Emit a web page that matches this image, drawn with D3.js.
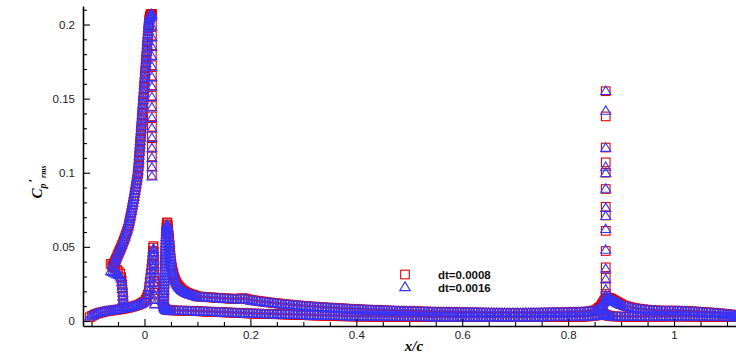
<!DOCTYPE html>
<html>
<head>
<meta charset="utf-8">
<script src="https://cdn.jsdelivr.net/npm/d3@7"></script>
<style>
  body { margin: 0; background: #fff; }
  svg { display: block; }
</style>
</head>
<body>
<svg id="chart" width="736" height="358"></svg>
<script>
// each row: [x/c, Cp'rms dt=0.0008, Cp'rms dt=0.0016]
const slatLower = [
  [-0.103,0.0025,0.0030],[-0.099,0.0035,0.0038],[-0.095,0.0042,0.0046],[-0.091,0.0048,0.0051],
  [-0.087,0.0053,0.0055],[-0.083,0.0057,0.0059],[-0.079,0.0060,0.0062],[-0.075,0.0063,0.0065],
  [-0.071,0.0066,0.0067],[-0.067,0.0068,0.0069],[-0.063,0.0070,0.0071],[-0.059,0.0072,0.0073],
  [-0.055,0.0074,0.0075],[-0.051,0.0076,0.0077],[-0.047,0.0078,0.0079],[-0.043,0.0080,0.0081],
  [-0.039,0.0083,0.0084],[-0.035,0.0086,0.0087],[-0.031,0.0089,0.0090],[-0.027,0.0092,0.0093],
  [-0.023,0.0096,0.0097],[-0.019,0.0100,0.0101],[-0.015,0.0105,0.0106],[-0.011,0.0110,0.0111],
  [-0.007,0.0116,0.0117],[-0.004,0.0122,0.0123],[-0.001,0.0130,0.0130],[0.002,0.0142,0.0140],
  [0.004,0.0158,0.0155],[0.006,0.0178,0.0174],[0.008,0.0205,0.0200],[0.009,0.0232,0.0226],
  [0.010,0.0262,0.0255],[0.011,0.0292,0.0285],[0.012,0.0322,0.0315],[0.013,0.0352,0.0345],
  [0.014,0.0382,0.0375],[0.015,0.0412,0.0405],[0.0155,0.0442,0.0435],[0.016,0.0470,0.0462],
  [0.0165,0.0495,0.0480],[0.017,0.0505,0.0487]
];
const slatTELower = [
  [0.0175,0.0470,0.0455],[0.018,0.0430,0.0415],[0.018,0.0390,0.0375],[0.018,0.0350,0.0335],
  [0.018,0.0310,0.0295],[0.018,0.0270,0.0255],[0.018,0.0230,0.0215],[0.018,0.0190,0.0180],
  [0.018,0.0150,0.0142],[0.019,0.0120,0.0112]
];
const slatCove = [
  [-0.064,0.0385,0.0335],[-0.061,0.0375,0.0330],[-0.058,0.0365,0.0325],[-0.055,0.0355,0.0320],
  [-0.052,0.0345,0.0315],[-0.049,0.0335,0.0310],[-0.046,0.0320,0.0300],[-0.044,0.0295,0.0285],
  [-0.043,0.0270,0.0262],[-0.042,0.0245,0.0238],[-0.042,0.0220,0.0214],[-0.041,0.0195,0.0190],
  [-0.041,0.0170,0.0166],[-0.040,0.0145,0.0142],[-0.040,0.0120,0.0118],[-0.039,0.0098,0.0096]
];
const slatUpper = [
  [-0.0600,0.0365,0.0372],[-0.0585,0.0377,0.0389],[-0.0570,0.0390,0.0402],[-0.0555,0.0403,0.0415],
  [-0.0540,0.0415,0.0427],[-0.0525,0.0427,0.0439],[-0.0510,0.0440,0.0452],[-0.0495,0.0453,0.0465],
  [-0.0480,0.0465,0.0477],[-0.0465,0.0477,0.0489],[-0.0450,0.0490,0.0502],[-0.0435,0.0503,0.0515],
  [-0.0420,0.0515,0.0527],[-0.0405,0.0529,0.0541],[-0.0390,0.0543,0.0555],[-0.0375,0.0558,0.0570],
  [-0.0360,0.0573,0.0585],[-0.0345,0.0589,0.0601],[-0.0330,0.0605,0.0617],[-0.0315,0.0622,0.0634],
  [-0.0300,0.0640,0.0652],[-0.0290,0.0657,0.0669],[-0.0280,0.0675,0.0687],[-0.0270,0.0692,0.0704],
  [-0.0260,0.0710,0.0722],[-0.0250,0.0728,0.0740],[-0.0240,0.0747,0.0759],[-0.0230,0.0766,0.0778],
  [-0.0220,0.0785,0.0797],[-0.0210,0.0805,0.0817],[-0.0200,0.0825,0.0837],[-0.0190,0.0846,0.0858],
  [-0.0180,0.0867,0.0879],[-0.0170,0.0888,0.0900],[-0.0160,0.0910,0.0922],[-0.0150,0.0932,0.0944],
  [-0.0140,0.0955,0.0967],[-0.0130,0.0980,0.0991],[-0.0120,0.1005,0.1016],[-0.0115,0.1030,0.1040],
  [-0.0110,0.1055,0.1065],[-0.0105,0.1080,0.1090],[-0.0100,0.1105,0.1115],[-0.0095,0.1130,0.1140],
  [-0.0090,0.1155,0.1165],[-0.0085,0.1180,0.1190],[-0.0080,0.1205,0.1215],[-0.0075,0.1230,0.1240],
  [-0.0070,0.1255,0.1265],[-0.0065,0.1280,0.1290],[-0.0060,0.1305,0.1315],[-0.0055,0.1330,0.1340],
  [-0.0050,0.1355,0.1365],[-0.0045,0.1380,0.1390],[-0.0040,0.1405,0.1415],[-0.0035,0.1430,0.1440],
  [-0.0030,0.1455,0.1465],[-0.0025,0.1480,0.1490],[-0.0020,0.1505,0.1515],[-0.0015,0.1530,0.1540],
  [-0.0010,0.1555,0.1565],[-0.0005,0.1580,0.1590],[0.0000,0.1605,0.1615],[0.0005,0.1630,0.1640],
  [0.0010,0.1655,0.1665],[0.0015,0.1680,0.1690],[0.0020,0.1705,0.1715],[0.0025,0.1730,0.1740],
  [0.0030,0.1755,0.1765],[0.0035,0.1780,0.1790],[0.0040,0.1805,0.1815],[0.0045,0.1830,0.1840],
  [0.0050,0.1855,0.1865],[0.0055,0.1880,0.1888],[0.0060,0.1905,0.1912],[0.0065,0.1930,0.1935],
  [0.0070,0.1955,0.1958],[0.0075,0.1975,0.1978],[0.0080,0.1995,0.1997],[0.0085,0.2013,0.2014],
  [0.0090,0.2030,0.2030],[0.0095,0.2043,0.2042],[0.0100,0.2055,0.2053],[0.0110,0.2064,0.2062],
  [0.0120,0.2070,0.2067],[0.0130,0.2072,0.2069],[0.0140,0.2072,0.2069]
];
const slatTE = [
  [0.014,0.2065,0.2055],[0.014,0.1995,0.1985],[0.014,0.1925,0.1915],[0.014,0.1860,0.1850],
  [0.014,0.1795,0.1785],[0.014,0.1725,0.1715],[0.014,0.1655,0.1645],[0.014,0.1590,0.1580],
  [0.014,0.1520,0.1510],[0.014,0.1450,0.1440],[0.014,0.1380,0.1370],[0.014,0.1310,0.1300],
  [0.014,0.1245,0.1235],[0.014,0.1175,0.1165],[0.014,0.1110,0.1100],[0.014,0.1045,0.1035],
  [0.014,0.0985,0.0975]
];
const mainNose = [
  [0.0355,0.0110,0.0108],[0.036,0.0130,0.0127],[0.036,0.0150,0.0147],[0.0365,0.0170,0.0167],
  [0.0365,0.0190,0.0187],[0.037,0.0210,0.0206],[0.037,0.0230,0.0226],[0.0375,0.0250,0.0246],
  [0.0375,0.0270,0.0266],[0.038,0.0290,0.0286],[0.038,0.0310,0.0306],[0.0385,0.0330,0.0326],
  [0.0385,0.0350,0.0346],[0.039,0.0370,0.0366],[0.039,0.0390,0.0386],[0.039,0.0410,0.0406],
  [0.0395,0.0430,0.0426],[0.0395,0.0450,0.0446],[0.0395,0.0470,0.0466],[0.040,0.0490,0.0486],
  [0.040,0.0510,0.0506],[0.040,0.0530,0.0526],[0.0405,0.0550,0.0546],[0.0405,0.0570,0.0566],
  [0.041,0.0590,0.0585],[0.041,0.0610,0.0604],[0.0415,0.0630,0.0622],[0.042,0.0650,0.0638],
  [0.0425,0.0665,0.0650]
];
const mainUpper = [
  [0.0435,0.0660,0.0645],[0.044,0.0640,0.0628],[0.0445,0.0620,0.0610],[0.045,0.0598,0.0588],
  [0.046,0.0575,0.0565],[0.0465,0.0552,0.0542],[0.047,0.0530,0.0520],[0.0475,0.0508,0.0498],
  [0.048,0.0485,0.0476],[0.0485,0.0462,0.0454],[0.049,0.0440,0.0432],[0.0495,0.0420,0.0412],
  [0.050,0.0400,0.0393],[0.051,0.0380,0.0373],[0.052,0.0360,0.0354],[0.053,0.0342,0.0336],
  [0.054,0.0325,0.0320],[0.055,0.0310,0.0305],[0.056,0.0295,0.0290],[0.0575,0.0281,0.0277],
  [0.059,0.0268,0.0264],[0.0605,0.0257,0.0253],[0.062,0.0246,0.0242],[0.064,0.0237,0.0233],
  [0.066,0.0228,0.0224],[0.068,0.0220,0.0217],[0.070,0.0213,0.0210],[0.0725,0.0206,0.0203],
  [0.075,0.0200,0.0197],[0.0775,0.0195,0.0192],[0.080,0.0190,0.0187],[0.083,0.0186,0.0183],
  [0.086,0.0182,0.0179],[0.0895,0.0178,0.0175],[0.093,0.0175,0.0172],[0.0965,0.0170,0.0167],
  [0.100,0.0165,0.0162],[0.105,0.0164,0.0161],[0.110,0.0163,0.0160],[0.115,0.0161,0.0158],
  [0.120,0.0160,0.0157],[0.125,0.0159,0.0156],[0.130,0.0158,0.0155],[0.135,0.0156,0.0153],
  [0.140,0.0155,0.0152],[0.145,0.0154,0.0151],[0.150,0.0153,0.0150],[0.155,0.0152,0.0149],
  [0.160,0.0151,0.0148],[0.165,0.0150,0.0147],[0.170,0.0149,0.0146],[0.175,0.0150,0.0146],
  [0.180,0.0151,0.0147],[0.185,0.0153,0.0149],[0.190,0.0152,0.0148],[0.195,0.0147,0.0144],
  [0.200,0.0142,0.0139],[0.205,0.0140,0.0137],[0.210,0.0137,0.0134],[0.215,0.0135,0.0132],
  [0.220,0.0132,0.0130],[0.225,0.0130,0.0127],[0.230,0.0127,0.0125],[0.235,0.0125,0.0123],
  [0.240,0.0123,0.0121],[0.245,0.0121,0.0119],[0.250,0.0119,0.0117],[0.255,0.0117,0.0115],
  [0.260,0.0115,0.0113],[0.265,0.0113,0.0111],[0.270,0.0111,0.0110],[0.275,0.0110,0.0108],
  [0.280,0.0108,0.0106],[0.285,0.0106,0.0105],[0.290,0.0104,0.0103],[0.295,0.0103,0.0102],
  [0.300,0.0101,0.0100],[0.305,0.0100,0.0098],[0.310,0.0098,0.0097],[0.315,0.0097,0.0096],
  [0.320,0.0096,0.0095],[0.325,0.0094,0.0093],[0.330,0.0093,0.0092],[0.335,0.0092,0.0091],
  [0.340,0.0091,0.0090],[0.345,0.0090,0.0089],[0.350,0.0089,0.0088],[0.355,0.0088,0.0087],
  [0.360,0.0087,0.0086],[0.365,0.0086,0.0085],[0.370,0.0085,0.0084],[0.375,0.0084,0.0083],
  [0.380,0.0083,0.0082],[0.385,0.0082,0.0081],[0.390,0.0081,0.0080],[0.395,0.0080,0.0079],
  [0.400,0.0079,0.0078],[0.405,0.0078,0.0078],[0.410,0.0077,0.0077],[0.415,0.0076,0.0076],
  [0.420,0.0076,0.0075],[0.425,0.0075,0.0074],[0.430,0.0074,0.0074],[0.435,0.0073,0.0073],
  [0.440,0.0073,0.0072],[0.445,0.0072,0.0072],[0.450,0.0071,0.0071],[0.455,0.0070,0.0070],
  [0.460,0.0070,0.0070],[0.465,0.0069,0.0069],[0.470,0.0069,0.0069],[0.475,0.0068,0.0068],
  [0.480,0.0068,0.0068],[0.485,0.0067,0.0067],[0.490,0.0067,0.0067],[0.495,0.0066,0.0066],
  [0.500,0.0066,0.0066],[0.505,0.0065,0.0065],[0.510,0.0065,0.0065],[0.515,0.0064,0.0064],
  [0.520,0.0064,0.0064],[0.525,0.0063,0.0063],[0.530,0.0063,0.0063],[0.535,0.0062,0.0062],
  [0.540,0.0062,0.0062],[0.545,0.0061,0.0061],[0.550,0.0061,0.0061],[0.555,0.0060,0.0061],
  [0.560,0.0060,0.0061],[0.565,0.0060,0.0060],[0.570,0.0060,0.0060],[0.575,0.0059,0.0060],
  [0.580,0.0059,0.0059],[0.585,0.0058,0.0059],[0.590,0.0058,0.0059],[0.595,0.0058,0.0058],
  [0.600,0.0058,0.0058],[0.605,0.0057,0.0058],[0.610,0.0057,0.0058],[0.615,0.0057,0.0057],
  [0.620,0.0057,0.0057],[0.625,0.0056,0.0057],[0.630,0.0056,0.0057],[0.635,0.0056,0.0056],
  [0.640,0.0056,0.0056],[0.645,0.0055,0.0056],[0.650,0.0055,0.0056],[0.655,0.0055,0.0055],
  [0.660,0.0055,0.0055],[0.665,0.0055,0.0055],[0.670,0.0055,0.0055],[0.675,0.0054,0.0055],
  [0.680,0.0054,0.0055],[0.685,0.0054,0.0054],[0.690,0.0054,0.0054],[0.695,0.0054,0.0054],
  [0.700,0.0054,0.0054],[0.705,0.0054,0.0054],[0.710,0.0054,0.0054],[0.715,0.0054,0.0055],
  [0.720,0.0054,0.0055],[0.725,0.0055,0.0055],[0.730,0.0055,0.0055],[0.735,0.0055,0.0055],
  [0.740,0.0055,0.0055],[0.745,0.0055,0.0056],[0.750,0.0055,0.0056],[0.755,0.0056,0.0056],
  [0.760,0.0056,0.0056],[0.765,0.0056,0.0057],[0.770,0.0056,0.0057],[0.775,0.0057,0.0057],
  [0.780,0.0057,0.0057],[0.785,0.0057,0.0058],[0.790,0.0057,0.0058],[0.795,0.0058,0.0058],
  [0.800,0.0058,0.0058],[0.805,0.0058,0.0059],[0.810,0.0059,0.0059],[0.815,0.0059,0.0060],
  [0.820,0.0060,0.0060],[0.825,0.0061,0.0061],[0.830,0.0062,0.0062],[0.835,0.0063,0.0063],
  [0.840,0.0065,0.0064],[0.845,0.0068,0.0067],[0.850,0.0072,0.0070],[0.855,0.0080,0.0078],
  [0.860,0.0092,0.0089],[0.865,0.0108,0.0104]
];
const mainLower = [
  [0.0365,0.0100,0.0098],[0.037,0.0092,0.0090],[0.038,0.0086,0.0084],[0.039,0.0081,0.0079],
  [0.040,0.0078,0.0076],[0.0415,0.0076,0.0074],[0.043,0.0075,0.0073],[0.0445,0.0074,0.0072],
  [0.046,0.0073,0.0071],[0.048,0.0072,0.0070],
  [0.050,0.0072,0.0070],[0.055,0.0071,0.0070],[0.060,0.0070,0.0069],[0.065,0.0070,0.0068],
  [0.070,0.0069,0.0068],[0.075,0.0069,0.0067],[0.080,0.0068,0.0067],[0.085,0.0068,0.0066],
  [0.090,0.0067,0.0066],[0.095,0.0067,0.0065],[0.100,0.0066,0.0065],[0.105,0.0065,0.0064],
  [0.110,0.0064,0.0063],[0.115,0.0063,0.0062],[0.120,0.0062,0.0061],[0.125,0.0062,0.0061],
  [0.130,0.0061,0.0060],[0.135,0.0060,0.0059],[0.140,0.0059,0.0058],[0.145,0.0059,0.0058],
  [0.150,0.0058,0.0057],[0.155,0.0057,0.0056],[0.160,0.0056,0.0055],[0.165,0.0056,0.0055],
  [0.170,0.0055,0.0054],[0.175,0.0054,0.0053],[0.180,0.0053,0.0052],[0.185,0.0053,0.0052],
  [0.190,0.0052,0.0051],[0.195,0.0051,0.0050],[0.200,0.0050,0.0049],[0.205,0.0050,0.0049],
  [0.210,0.0049,0.0048],[0.215,0.0049,0.0048],[0.220,0.0048,0.0047],[0.225,0.0048,0.0047],
  [0.230,0.0047,0.0046],[0.235,0.0047,0.0046],[0.240,0.0046,0.0045],[0.245,0.0046,0.0045],
  [0.250,0.0045,0.0044],[0.255,0.0045,0.0044],[0.260,0.0044,0.0043],[0.265,0.0044,0.0043],
  [0.270,0.0043,0.0042],[0.275,0.0043,0.0042],[0.280,0.0042,0.0041],[0.285,0.0041,0.0041],
  [0.290,0.0040,0.0040],[0.295,0.0040,0.0040],[0.300,0.0039,0.0039],[0.305,0.0039,0.0039],
  [0.310,0.0038,0.0038],[0.315,0.0038,0.0038],[0.320,0.0037,0.0037],[0.325,0.0037,0.0037],
  [0.330,0.0036,0.0036],[0.335,0.0036,0.0036],[0.340,0.0035,0.0035],[0.345,0.0035,0.0035],
  [0.350,0.0034,0.0034],[0.355,0.0034,0.0034],[0.360,0.0033,0.0033],[0.365,0.0033,0.0033],
  [0.370,0.0032,0.0033],[0.375,0.0032,0.0032],[0.380,0.0031,0.0032],[0.385,0.0031,0.0031],
  [0.390,0.0031,0.0031],[0.395,0.0030,0.0031],[0.400,0.0030,0.0031],[0.405,0.0030,0.0030],
  [0.410,0.0030,0.0030],[0.415,0.0029,0.0030],[0.420,0.0029,0.0030],[0.425,0.0029,0.0029],
  [0.430,0.0029,0.0029],[0.435,0.0028,0.0029],[0.440,0.0028,0.0029],[0.445,0.0028,0.0028],
  [0.450,0.0028,0.0028],[0.455,0.0028,0.0028],[0.460,0.0027,0.0028],[0.465,0.0027,0.0028],
  [0.470,0.0027,0.0027],[0.475,0.0027,0.0027],[0.480,0.0027,0.0027],[0.485,0.0027,0.0027],
  [0.490,0.0027,0.0027],[0.495,0.0027,0.0027],[0.500,0.0027,0.0027],[0.505,0.0027,0.0027],
  [0.510,0.0027,0.0027],[0.515,0.0027,0.0027],[0.520,0.0026,0.0027],[0.525,0.0026,0.0027],
  [0.530,0.0026,0.0027],[0.535,0.0026,0.0026],[0.540,0.0026,0.0026],[0.545,0.0026,0.0026],
  [0.550,0.0026,0.0026],[0.555,0.0026,0.0026],[0.560,0.0026,0.0026],[0.565,0.0026,0.0026],
  [0.570,0.0026,0.0026],[0.575,0.0026,0.0026],[0.580,0.0026,0.0026],[0.585,0.0026,0.0026],
  [0.590,0.0026,0.0026],[0.595,0.0026,0.0026],[0.600,0.0026,0.0026],[0.605,0.0026,0.0026],
  [0.610,0.0026,0.0026],[0.615,0.0026,0.0026],[0.620,0.0026,0.0026],[0.625,0.0026,0.0026],
  [0.630,0.0026,0.0026],[0.635,0.0026,0.0026],[0.640,0.0026,0.0026],[0.645,0.0026,0.0026],
  [0.650,0.0026,0.0026],[0.655,0.0026,0.0026],[0.660,0.0026,0.0026],[0.665,0.0026,0.0026],
  [0.670,0.0026,0.0026],[0.675,0.0026,0.0026],[0.680,0.0026,0.0026],[0.685,0.0026,0.0026],
  [0.690,0.0026,0.0026],[0.695,0.0026,0.0026],[0.700,0.0026,0.0026],[0.705,0.0026,0.0026],
  [0.710,0.0026,0.0026],[0.715,0.0026,0.0026],[0.720,0.0026,0.0026],[0.725,0.0026,0.0026],
  [0.730,0.0026,0.0026],[0.735,0.0026,0.0026],[0.740,0.0026,0.0026],[0.745,0.0026,0.0026],
  [0.750,0.0026,0.0026],[0.755,0.0026,0.0026],[0.760,0.0026,0.0027],[0.765,0.0026,0.0027],
  [0.770,0.0027,0.0027],[0.775,0.0027,0.0027],[0.780,0.0027,0.0027],[0.785,0.0027,0.0027],
  [0.790,0.0027,0.0027],[0.795,0.0027,0.0027],[0.800,0.0027,0.0027],[0.805,0.0027,0.0027],
  [0.810,0.0027,0.0027],[0.815,0.0028,0.0028],[0.820,0.0028,0.0028],[0.825,0.0028,0.0028],
  [0.830,0.0029,0.0029],[0.835,0.0030,0.0030],[0.840,0.0031,0.0031],[0.845,0.0033,0.0032],
  [0.850,0.0035,0.0034],[0.855,0.0038,0.0037],[0.860,0.0042,0.0041]
];
const flapSpike = [
  [0.871,0.1550,0.1552],[0.871,0.1380,0.1418],[0.871,0.1170,0.1168],[0.871,0.1070,0.1040],
  [0.871,0.1000,0.0998],[0.871,0.0890,0.0892],[0.871,0.0770,0.0762],[0.871,0.0712,0.0708],
  [0.871,0.0608,0.0620],[0.871,0.0472,0.0480],[0.871,0.0362,0.0352],[0.871,0.0292,0.0282],
  [0.871,0.0228,0.0212],[0.871,0.0182,0.0172]
];
const flapUpper = [
  [0.858,0.0088,0.0085],[0.862,0.0100,0.0096],[0.864,0.0112,0.0108],[0.866,0.0124,0.0119],
  [0.868,0.0135,0.0130],[0.870,0.0145,0.0140],[0.872,0.0152,0.0147],[0.874,0.0156,0.0151],
  [0.876,0.0157,0.0152],[0.878,0.0155,0.0150],[0.880,0.0152,0.0147],[0.882,0.0148,0.0143],
  [0.884,0.0144,0.0139],[0.886,0.0140,0.0135],[0.888,0.0136,0.0131],[0.890,0.0132,0.0128],
  [0.8925,0.0127,0.0123],[0.895,0.0122,0.0118],[0.8975,0.0117,0.0114],[0.900,0.0113,0.0110],
  [0.905,0.0106,0.0103],[0.910,0.0100,0.0097],[0.915,0.0095,0.0093],[0.920,0.0091,0.0089],
  [0.925,0.0087,0.0085],[0.930,0.0084,0.0082],[0.935,0.0081,0.0079],[0.940,0.0079,0.0077],
  [0.945,0.0077,0.0075],[0.950,0.0075,0.0074],[0.955,0.0073,0.0072],[0.960,0.0072,0.0071],
  [0.965,0.0071,0.0070],[0.970,0.0070,0.0069],[0.975,0.0069,0.0068],[0.980,0.0069,0.0068],
  [0.985,0.0069,0.0068],[0.990,0.0069,0.0068],[0.995,0.0069,0.0068],[1.000,0.0069,0.0068],
  [1.005,0.0069,0.0068],[1.010,0.0068,0.0068],[1.015,0.0068,0.0067],[1.020,0.0067,0.0066],
  [1.025,0.0066,0.0065],[1.030,0.0065,0.0064],[1.035,0.0064,0.0063],[1.040,0.0063,0.0062],
  [1.045,0.0062,0.0061],[1.050,0.0060,0.0059],[1.055,0.0059,0.0058],[1.060,0.0058,0.0057],
  [1.065,0.0057,0.0056],[1.070,0.0056,0.0055],[1.075,0.0054,0.0053],[1.080,0.0053,0.0052],
  [1.085,0.0051,0.0050],[1.090,0.0050,0.0049],[1.095,0.0048,0.0047],[1.100,0.0046,0.0045],
  [1.105,0.0044,0.0043],[1.110,0.0042,0.0041],[1.115,0.0040,0.0039],[1.120,0.0038,0.0037]
];
const flapLower = [
  [0.866,0.0050,0.0048],[0.868,0.0046,0.0044],[0.870,0.0043,0.0041],[0.8725,0.0040,0.0038],
  [0.875,0.0037,0.0036],[0.8775,0.0035,0.0034],[0.880,0.0033,0.0032],[0.885,0.0031,0.0030],
  [0.890,0.0030,0.0029],[0.895,0.0029,0.0029],[0.900,0.0029,0.0028],[0.905,0.0028,0.0028],
  [0.910,0.0028,0.0028],[0.915,0.0028,0.0028],[0.920,0.0028,0.0028],[0.925,0.0028,0.0028],
  [0.930,0.0028,0.0028],[0.935,0.0028,0.0028],[0.940,0.0028,0.0028],[0.945,0.0028,0.0028],
  [0.950,0.0028,0.0028],[0.955,0.0029,0.0028],[0.960,0.0029,0.0028],[0.965,0.0029,0.0029],
  [0.970,0.0029,0.0029],[0.975,0.0029,0.0029],[0.980,0.0029,0.0029],[0.985,0.0030,0.0029],
  [0.990,0.0030,0.0029],[0.995,0.0030,0.0030],[1.000,0.0030,0.0030],[1.005,0.0030,0.0030],
  [1.010,0.0030,0.0030],[1.015,0.0030,0.0029],[1.020,0.0030,0.0029],[1.025,0.0029,0.0029],
  [1.030,0.0029,0.0029],[1.035,0.0029,0.0029],[1.040,0.0029,0.0029],[1.045,0.0029,0.0028],
  [1.050,0.0029,0.0028],[1.055,0.0028,0.0028],[1.060,0.0028,0.0028],[1.065,0.0028,0.0028],
  [1.070,0.0028,0.0028],[1.075,0.0028,0.0027],[1.080,0.0028,0.0027],[1.085,0.0027,0.0027],
  [1.090,0.0027,0.0027],[1.095,0.0027,0.0027],[1.100,0.0027,0.0027],[1.105,0.0027,0.0026],
  [1.110,0.0027,0.0026],[1.115,0.0026,0.0026],[1.120,0.0026,0.0026]
];

const xMajor = [0, 0.2, 0.4, 0.6, 0.8, 1]
const xMinor = [-0.1, -0.05, 0.05, 0.1, 0.15, 0.25, 0.3, 0.35, 0.45, 0.5, 0.55, 0.65, 0.7, 0.75, 0.85, 0.9, 0.95, 1.05, 1.1]
const yMajor = [0, 0.05, 0.1, 0.15, 0.2]
const yMinor = [0.01, 0.02, 0.03, 0.04, 0.06, 0.07, 0.08, 0.09, 0.11, 0.12, 0.13, 0.14, 0.16, 0.17, 0.18, 0.19, 0.21]
const legendLabels = ["dt=0.0008", "dt=0.0016"]

const red = "#e00000", blue = "#3535ff"
const svg = d3.select("#chart")

const x = d3.scaleLinear().domain([-0.1161, 1.117]).range([83, 736])
const y = d3.scaleLinear().domain([-0.0034, 0.2125]).range([326, 6])

const tri = "M0,-4.9L5,3.5L-5,3.5Z"
const points = [slatLower, slatTELower, slatCove, slatUpper, slatTE,
  mainNose, mainUpper, mainLower, flapSpike, flapUpper, flapLower].flat()

// dt=0.0008 squares first, dt=0.0016 triangles on top
svg.append("g")
  .selectAll("rect")
  .data(points)
  .join("rect")
  .attr("x", d => x(d[0]) - 4.3)
  .attr("y", d => y(d[1]) - 4.3)
  .attr("width", 8.6)
  .attr("height", 8.6)
  .attr("fill", "none")
  .attr("stroke", red)
  .attr("stroke-width", 1.1)

svg.append("g")
  .selectAll("path")
  .data(points)
  .join("path")
  .attr("d", tri)
  .attr("transform", d => `translate(${x(d[0])},${y(d[2])})`)
  .attr("fill", "none")
  .attr("stroke", blue)
  .attr("stroke-width", 1.1)

// axes
const font = "'Liberation Sans', Arial, sans-serif"
svg.append("g")
  .attr("transform", "translate(0,326)")
  .call(d3.axisBottom(x).tickValues(xMajor).tickSize(-7).tickSizeOuter(0).tickPadding(5).tickFormat(d => String(d)))
svg.append("g")
  .attr("transform", "translate(0,326)")
  .call(d3.axisBottom(x).tickValues(xMinor).tickSize(-4).tickSizeOuter(0).tickFormat(""))
  .call(g => g.select(".domain").remove())

svg.append("g")
  .attr("transform", "translate(83,0)")
  .call(d3.axisLeft(y).tickValues(yMajor).tickSize(-7).tickSizeOuter(0).tickPadding(8).tickFormat(d => String(d)))
svg.append("g")
  .attr("transform", "translate(83,0)")
  .call(d3.axisLeft(y).tickValues(yMinor).tickSize(-4).tickSizeOuter(0).tickFormat(""))
  .call(g => g.select(".domain").remove())

svg.selectAll(".domain").attr("stroke", "#000").attr("stroke-width", 1.6)
svg.selectAll(".tick line").attr("stroke", "#000").attr("stroke-width", 1.1)
svg.selectAll(".tick text").attr("fill", "#222").style("font-family", font).style("font-size", "11.5px")

// axis titles
svg.append("text")
  .attr("x", 414)
  .attr("y", 351)
  .attr("text-anchor", "middle")
  .style("font-family", "'Liberation Serif', 'Times New Roman', serif")
  .style("font-weight", "bold")
  .style("font-style", "italic")
  .style("font-size", "15px")
  .text("x/c")

const yt = svg.append("text")
  .attr("transform", "translate(42,182) rotate(-90)")
  .attr("text-anchor", "middle")
  .style("font-family", "'Liberation Serif', 'Times New Roman', serif")
  .style("font-weight", "bold")
  .style("font-style", "italic")
  .style("font-size", "15px")
yt.append("tspan").text("C")
yt.append("tspan").attr("dy", 4).style("font-size", "10px").text("p")
yt.append("tspan").attr("dy", -9).attr("dx", 1).style("font-size", "13px").text("\u2032")
yt.append("tspan").attr("dy", 9).attr("dx", 1).style("font-size", "8px").text("rms")

// legend
const lg = svg.append("g")
lg.append("rect")
  .attr("x", 405 - 4.3).attr("y", 274.5 - 4.3).attr("width", 8.6).attr("height", 8.6)
  .attr("fill", "none").attr("stroke", red).attr("stroke-width", 1.1)
lg.append("path")
  .attr("d", tri).attr("transform", "translate(405,287) scale(1.05)")
  .attr("fill", "none").attr("stroke", blue).attr("stroke-width", 1.1)
lg.selectAll("text")
  .data(legendLabels)
  .join("text")
  .attr("x", 438)
  .attr("y", (d, i) => 278.5 + i * 13.5)
  .style("font-family", font)
  .style("font-weight", "bold")
  .style("font-size", "11.5px")
  .attr("fill", "#111")
  .text(d => d)
</script>
</body>
</html>
